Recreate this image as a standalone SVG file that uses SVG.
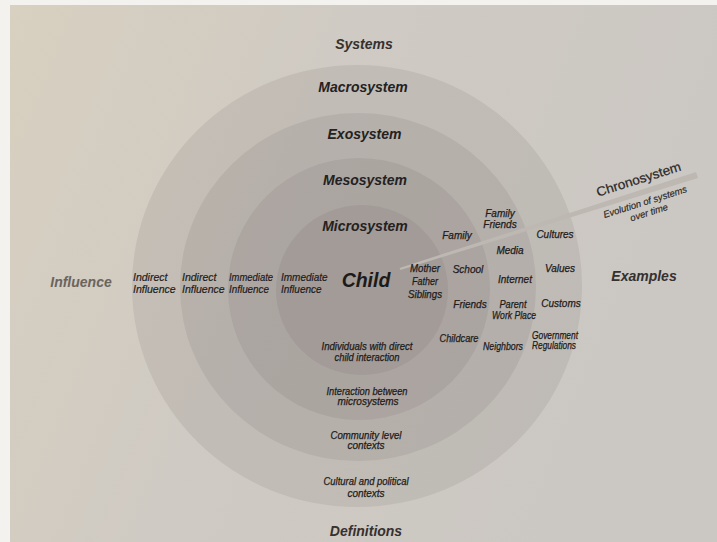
<svg xmlns="http://www.w3.org/2000/svg" width="717" height="542" viewBox="0 0 717 542">
  <defs>
    <linearGradient id="paper" x1="0" y1="0" x2="1" y2="0.3">
      <stop offset="0" stop-color="#d8d0c0"/>
      <stop offset="0.45" stop-color="#cfcac3"/>
      <stop offset="1" stop-color="#cbc7c2"/>
    </linearGradient>
    <style>
      .ring { fill: #5e5254; fill-opacity: 0.11; }
      .band { fill: #beb8b3; }
      text { font-family: "Liberation Sans", Arial, sans-serif; font-style: italic; text-anchor: middle; }
      .head { font-size: 14px; font-weight: bold; fill: #35312f; }
      .sys { font-size: 14px; font-weight: bold; fill: #242121; }
      .child { font-size: 19.5px; font-weight: bold; fill: #1c1a1a; }
      .lbl { font-size: 10px; fill: #1e1c1c; stroke: #1e1c1c; stroke-width: 0.25; }
      .col { font-size: 10.5px; text-anchor: start; fill: #1e1c1c; stroke: #1e1c1c; stroke-width: 0.2; }
      .chrono { font-style: normal; font-size: 13px; fill: #2a2727; stroke: #2a2727; stroke-width: 0.2; }
      .evo { font-size: 9.5px; fill: #2a2727; stroke: #2a2727; stroke-width: 0.15; }
    </style>
  </defs>

  <!-- page -->
  <rect x="0" y="0" width="717" height="542" fill="#f4f2ee"/>
  <rect x="10" y="5" width="707" height="537" fill="url(#paper)"/>

  <!-- concentric system rings -->
  <g id="rings">
    <ellipse id="ring-macrosystem" class="ring" cx="357" cy="286" rx="225" ry="221"/>
    <ellipse id="ring-exosystem" class="ring" cx="358" cy="287" rx="178" ry="174"/>
    <ellipse id="ring-mesosystem" class="ring" cx="359" cy="289" rx="131" ry="131"/>
    <ellipse id="ring-microsystem" class="ring" cx="362" cy="290" rx="86" ry="85"/>
  </g>

  <!-- chronosystem band running out from the centre -->
  <g id="connectors">
    <polygon class="band" points="399.6,267.9 696.1,172.1 697.9,177.9 400.4,270.1"/>
  </g>

  <!-- axis headings -->
  <g id="headings">
    <text class="head" x="364" y="49">Systems</text>
    <text class="head" x="366" y="536">Definitions</text>
    <text class="head" x="81" y="287" style="fill:#6a6460">Influence</text>
    <text class="head" x="644" y="281">Examples</text>
  </g>

  <g id="macrosystem">
    <text class="sys" x="363" y="92">Macrosystem</text>
    <text class="col" x="133" y="281">Indirect</text>
    <text class="col" x="133" y="292.5">Influence</text>
    <text class="lbl" x="555" y="238">Cultures</text>
    <text class="lbl" x="560" y="272">Values</text>
    <text class="lbl" x="561" y="307">Customs</text>
    <text class="lbl" x="555" y="339" textLength="46" lengthAdjust="spacingAndGlyphs">Government</text>
    <text class="lbl" x="554" y="349" textLength="44" lengthAdjust="spacingAndGlyphs">Regulations</text>
    <text class="lbl" x="366" y="485" textLength="85" lengthAdjust="spacingAndGlyphs">Cultural and political</text>
    <text class="lbl" x="366" y="497">contexts</text>
  </g>

  <g id="exosystem">
    <text class="sys" x="364.5" y="139">Exosystem</text>
    <text class="col" x="182" y="281">Indirect</text>
    <text class="col" x="182" y="292.5">Influence</text>
    <text class="lbl" x="500" y="217">Family</text>
    <text class="lbl" x="500" y="228">Friends</text>
    <text class="lbl" x="510" y="254">Media</text>
    <text class="lbl" x="515" y="283">Internet</text>
    <text class="lbl" x="513" y="308" textLength="27" lengthAdjust="spacingAndGlyphs">Parent</text>
    <text class="lbl" x="514" y="319" textLength="44" lengthAdjust="spacingAndGlyphs">Work Place</text>
    <text class="lbl" x="503" y="350" textLength="40" lengthAdjust="spacingAndGlyphs">Neighbors</text>
    <text class="lbl" x="366" y="439" textLength="71" lengthAdjust="spacingAndGlyphs">Community level</text>
    <text class="lbl" x="366" y="449">contexts</text>
  </g>

  <g id="mesosystem">
    <text class="sys" x="365" y="185">Mesosystem</text>
    <text class="col" x="229" y="281" textLength="44" lengthAdjust="spacingAndGlyphs">Immediate</text>
    <text class="col" x="229" y="292.5" textLength="40" lengthAdjust="spacingAndGlyphs">Influence</text>
    <text class="lbl" x="457" y="239">Family</text>
    <text class="lbl" x="468" y="273">School</text>
    <text class="lbl" x="470" y="308">Friends</text>
    <text class="lbl" x="459" y="342" textLength="39" lengthAdjust="spacingAndGlyphs">Childcare</text>
    <text class="lbl" x="367" y="395" textLength="81" lengthAdjust="spacingAndGlyphs">Interaction between</text>
    <text class="lbl" x="368" y="405">microsystems</text>
  </g>

  <g id="microsystem">
    <text class="sys" x="365" y="231">Microsystem</text>
    <text class="col" x="281" y="281" style="font-size:10px">Immediate</text>
    <text class="col" x="281" y="292.5" style="font-size:10px">Influence</text>
    <text class="lbl" x="425" y="272" textLength="30" lengthAdjust="spacingAndGlyphs">Mother</text>
    <text class="lbl" x="425" y="285" textLength="26" lengthAdjust="spacingAndGlyphs">Father</text>
    <text class="lbl" x="425" y="298" textLength="34" lengthAdjust="spacingAndGlyphs">Siblings</text>
    <text class="lbl" x="367" y="350" textLength="91" lengthAdjust="spacingAndGlyphs">Individuals with direct</text>
    <text class="lbl" x="367" y="361" textLength="65" lengthAdjust="spacingAndGlyphs">child interaction</text>
  </g>

  <g id="child">
    <text class="child" x="366" y="287">Child</text>
  </g>

  <g id="chronosystem">
    <text class="chrono" x="640" y="183.5" transform="rotate(-17.5 640 183.5)" textLength="88" lengthAdjust="spacingAndGlyphs">Chronosystem</text>
    <text class="evo" x="646" y="205" transform="rotate(-17.5 646 205)">Evolution of systems</text>
    <text class="evo" x="650" y="215.5" transform="rotate(-17.5 650 215.5)">over time</text>
  </g>
</svg>
